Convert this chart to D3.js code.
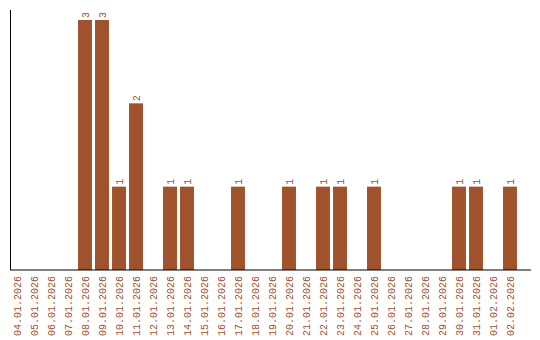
<!DOCTYPE html>
<html>
<head>
<meta charset="utf-8">
<script src="https://cdn.jsdelivr.net/npm/d3@7"></script>
<style>
  body { margin: 0; background: #fff; }
</style>
</head>
<body>
<div id="chart"></div>
<script>
// dates and counts
const dates = ["04.01.2026","05.01.2026","06.01.2026","07.01.2026","08.01.2026","09.01.2026",
  "10.01.2026","11.01.2026","12.01.2026","13.01.2026","14.01.2026","15.01.2026","16.01.2026",
  "17.01.2026","18.01.2026","19.01.2026","20.01.2026","21.01.2026","22.01.2026","23.01.2026",
  "24.01.2026","25.01.2026","26.01.2026","27.01.2026","28.01.2026","29.01.2026","30.01.2026",
  "31.01.2026","01.02.2026","02.02.2026"];
const counts = [0,0,0,0,3,3,1,2,0,1,1,0,0,1,0,0,1,0,1,1,0,1,0,0,0,0,1,1,0,1];

const data = dates.map((d, i) => ({date: d, value: counts[i]}));

const width = 540, height = 340;
const color = "#a0522d";
const font = "'Liberation Mono', monospace";

const svg = d3.select("#chart")
    .append("svg")
    .attr("width", width)
    .attr("height", height);

// scales
const x = d3.scaleBand()
    .domain(dates)
    .range([8.5, 518.5])
    .paddingInner(0.18)
    .paddingOuter(0.09);

const y = d3.scaleLinear()
    .domain([0, 3])
    .range([270, 20]);

// bars
svg.selectAll(".bar")
    .data(data.filter(d => d.value > 0))
    .join("rect")
    .attr("class", "bar")
    .attr("x", d => x(d.date))
    .attr("y", d => y(d.value))
    .attr("width", x.bandwidth())
    .attr("height", d => y(0) - y(d.value))
    .style("fill", color);

// value labels
svg.selectAll(".val")
    .data(data.filter(d => d.value > 0))
    .join("text")
    .attr("class", "val")
    .attr("transform", d => `translate(${x(d.date) + x.bandwidth() / 2 + 3.5}, ${y(d.value) - 2}) rotate(-90)`)
    .style("font-family", font)
    .style("font-size", "10px")
    .style("fill", color)
    .text(d => d.value);

// x axis
const xAxis = svg.append("g")
    .attr("transform", "translate(0,270)")
    .call(d3.axisBottom(x).tickSize(0).tickPadding(0));
xAxis.select(".domain")
    .attr("d", "M10,0H531")
    .attr("stroke", "#000")
    .attr("stroke-width", 1);
xAxis.selectAll("text")
    .attr("transform", "rotate(-90)")
    .attr("x", -6)
    .attr("y", 0)
    .attr("dy", "0.35em")
    .style("text-anchor", "end")
    .style("font-family", font)
    .style("font-size", "10px")
    .style("fill", color);

// y axis line
svg.append("line")
    .attr("x1", 10.5).attr("x2", 10.5)
    .attr("y1", 10).attr("y2", 270)
    .attr("stroke", "#000")
    .attr("stroke-width", 1);
</script>
</body>
</html>
